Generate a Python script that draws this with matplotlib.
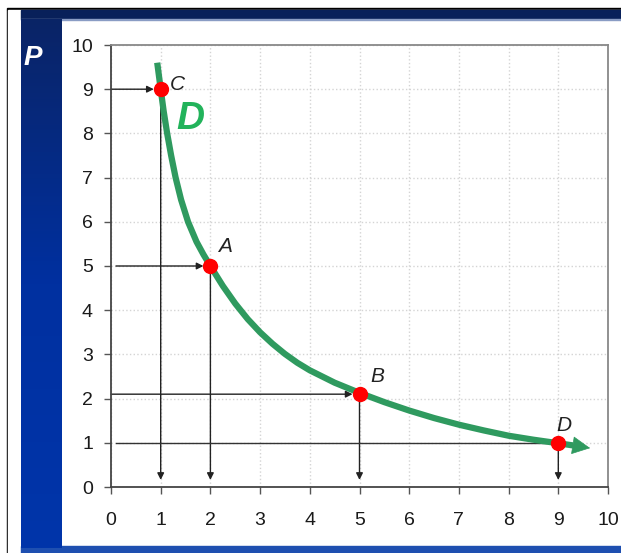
import matplotlib.pyplot as plt
import numpy as np
from matplotlib.patches import Rectangle
from matplotlib.colors import LinearSegmentedColormap

plt.rcParams['font.family'] = ['Liberation Sans', 'DejaVu Sans']

# demand curve (quantity, price)
curva_q = [0.93, 1.0, 1.06, 1.13, 1.21, 1.3, 1.41, 1.55, 1.72, 1.86, 2.0, 2.25, 2.5, 2.75,
           3.0, 3.25, 3.5, 3.75, 4.0, 4.5, 5.0, 5.5, 6.0, 6.5, 7.0, 7.5, 8.0, 8.5,
           9.0, 9.3]
curva_p = [9.6, 9.0, 8.5, 8.0, 7.5, 7.0, 6.5, 6.0, 5.55, 5.26, 5.0, 4.55, 4.15, 3.8,
           3.5, 3.24, 3.01, 2.81, 2.64, 2.36, 2.13, 1.92, 1.73, 1.56, 1.41, 1.28, 1.16, 1.07,
           0.99, 0.94]
punta_flecha = (9.64, 0.88)

# labelled points
nombres = ["C", "A", "B", "D"]
puntos_q = [1, 2, 5, 9]
puntos_p = [9, 5, 2.1, 1]
inicio_flecha_q = [0, 0.1, 0, 0.1]

ticks = list(range(0, 11))

fig = plt.figure(figsize=(6.21, 5.53), dpi=100)
W, H = 621, 553

def px_rect(x0, y0, x1, y1, color):
    # rectangle given in pixels measured from the top left corner
    fig.patches.append(Rectangle((x0 / W, 1 - y1 / H), (x1 - x0) / W, (y1 - y0) / H,
                                 transform=fig.transFigure, color=color, zorder=-10))

# frame of the slide
px_rect(7, 8, 621, 553, 'black')
px_rect(8, 10, 621, 553, 'white')
px_rect(21, 10, 621, 19, '#08205a')
px_rect(21, 19, 621, 20, '#8a9cc4')
px_rect(21, 546, 621, 553, '#1e4fb0')

# left band with a gradient from navy to blue
banda = fig.add_axes([21 / W, 1 - 548 / H, (62 - 21) / W, (548 - 19) / H])
grad = np.linspace(0, 1, 256).reshape(-1, 1)
cmap = LinearSegmentedColormap.from_list('azul', ['#0a2466', '#0030a0', '#0035aa'])
banda.imshow(grad, aspect='auto', cmap=cmap)
banda.axis('off')
fig.text(33 / W, 1 - 58 / H, "P", color='white', fontsize=20, fontweight='bold',
         fontstyle='italic', ha='center', va='center')

ax = fig.add_axes([111 / W, 66 / H, 497 / W, 442 / H])
ax.set_xlim(0, 10)
ax.set_ylim(0, 10)
ax.set_xticks(ticks)
ax.set_yticks(ticks)
ax.grid(True, color='#d4d4d4', linestyle=':', linewidth=1)
ax.set_axisbelow(True)
ax.tick_params(direction='out', length=5, width=1, color='#555555',
               labelsize=14, labelcolor='#1a1a1a')
ax.tick_params(axis='x', pad=13)
ax.tick_params(axis='y', pad=8)
for lado in ['top', 'right']:
    ax.spines[lado].set_color('#888888')
for lado in ['left', 'bottom']:
    ax.spines[lado].set_color('#444444')
for s in ax.spines.values():
    s.set_linewidth(1.3)

# guide arrows
for q, p, q0 in zip(puntos_q, puntos_p, inicio_flecha_q):
    if q == 9:
        ax.plot([q0, q], [p, p], color='#333333', lw=1, zorder=2)
    else:
        ax.annotate("", xy=(q, p), xytext=(q0, p),
                    arrowprops=dict(arrowstyle='-|>', color='#222222', lw=1,
                                    mutation_scale=10, shrinkA=0, shrinkB=5),
                    zorder=2)
    ax.annotate("", xy=(q, 0.16), xytext=(q, p),
                arrowprops=dict(arrowstyle='-|>', color='#222222', lw=1,
                                mutation_scale=10, shrinkA=0, shrinkB=0),
                zorder=2)

# demand curve
verde = '#2f9a5f'
ax.plot(curva_q, curva_p, color=verde, lw=4.5, solid_capstyle='butt', zorder=3)
ax.annotate("", xy=punta_flecha, xytext=(curva_q[-1] - 0.05, curva_p[-1] + 0.01),
            arrowprops=dict(arrowstyle='-|>,head_length=0.6,head_width=0.3',
                            color=verde, lw=0.5, mutation_scale=20,
                            shrinkA=0, shrinkB=0),
            zorder=3)
ax.text(1.6, 8.33, "D", color='#22b35b', fontsize=28, fontweight='bold',
        fontstyle='italic', ha='center', va='center', zorder=4)

ax.plot(puntos_q, puntos_p, 'o', color='#ff0000', markersize=10, zorder=5)

offsets = {"C": (0.33, 0.1), "A": (0.3, 0.43), "B": (0.36, 0.39), "D": (0.11, 0.4)}
for n, q, p in zip(nombres, puntos_q, puntos_p):
    dx, dy = offsets[n]
    ax.text(q + dx, p + dy, n, fontsize=15, fontstyle='italic', color='#222222',
            ha='center', va='center', zorder=6)

fig.savefig("out.png", dpi=100)
